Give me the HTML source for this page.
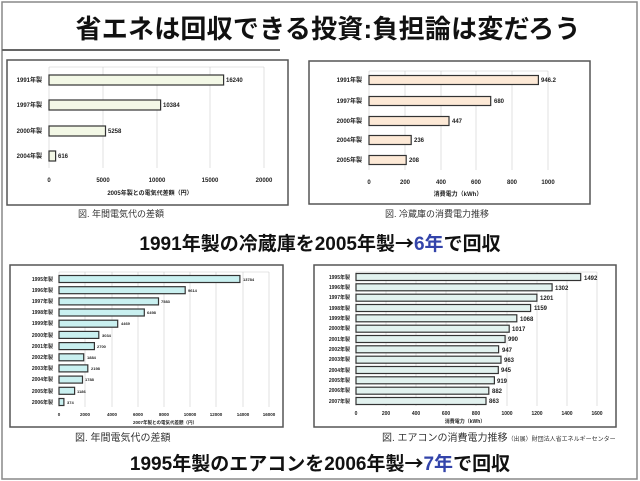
<!DOCTYPE html>
<html><head><meta charset="utf-8"><style>
body{margin:0;background:#fff;}
svg{display:block;font-family:"Liberation Sans","Noto Sans CJK JP",sans-serif;}
.t{font-size:6px;font-weight:bold;fill:#222}
.b{stroke:#333;stroke-width:1.2}
.g{stroke:#ccc;stroke-width:0.6}
.bx{fill:none;stroke:#555;stroke-width:1.5}
.ar{font-family:"Noto Sans CJK JP",sans-serif}
</style></head><body>
<svg width="640" height="481" viewBox="0 0 640 481">
<rect x="2" y="2" width="635" height="477" fill="none" stroke="#888" stroke-width="1.5"/>
<text x="328" y="38" text-anchor="middle" font-size="26" font-weight="bold" fill="#111" textLength="505">省エネは回収できる投資:負担論は変だろう</text>
<line x1="2" y1="50" x2="280" y2="50" stroke="#666" stroke-width="2"/>

<!-- chart1 -->
<rect class="bx" x="7" y="60" width="281" height="145"/>
<g class="g"><line x1="49" y1="67" x2="49" y2="168"/><line x1="103" y1="67" x2="103" y2="168"/><line x1="157" y1="67" x2="157" y2="168"/><line x1="210" y1="67" x2="210" y2="168"/><line x1="264" y1="67" x2="264" y2="168"/><line x1="49" y1="67" x2="264" y2="67"/></g>
<g fill="#f3f8e6" class="b"><rect x="49" y="75" width="174.6" height="10"/><rect x="49" y="100" width="111.6" height="10"/><rect x="49" y="126" width="56.5" height="10"/><rect x="49" y="151" width="6.6" height="10"/></g>
<g class="t" text-anchor="end"><text x="42" y="82">1991年製</text><text x="42" y="107">1997年製</text><text x="42" y="133">2000年製</text><text x="42" y="158">2004年製</text></g>
<g class="t"><text x="226" y="82">16240</text><text x="163" y="107">10384</text><text x="108" y="133">5258</text><text x="58" y="158">616</text></g>
<g class="t" text-anchor="middle"><text x="49" y="182">0</text><text x="103" y="182">5000</text><text x="157" y="182">10000</text><text x="210" y="182">15000</text><text x="264" y="182">20000</text><text x="150" y="195">2005年製との電気代差額（円）</text></g>
<text x="78" y="217" font-size="9" fill="#333">図.  年間電気代の差額</text>

<!-- chart2 -->
<rect class="bx" x="309" y="61" width="281" height="143"/>
<g class="g"><line x1="369" y1="71" x2="369" y2="170"/><line x1="405" y1="71" x2="405" y2="170"/><line x1="441" y1="71" x2="441" y2="170"/><line x1="476" y1="71" x2="476" y2="170"/><line x1="512" y1="71" x2="512" y2="170"/><line x1="548" y1="71" x2="548" y2="170"/><line x1="369" y1="71" x2="548" y2="71"/></g>
<g fill="#fde9d6" class="b"><rect x="369" y="75.5" width="169.4" height="9"/><rect x="369" y="96.5" width="121.7" height="9"/><rect x="369" y="116.5" width="80" height="9"/><rect x="369" y="135.5" width="42.2" height="9"/><rect x="369" y="155.5" width="37.2" height="9"/></g>
<g class="t" text-anchor="end"><text x="362" y="82">1991年製</text><text x="362" y="103">1997年製</text><text x="362" y="123">2000年製</text><text x="362" y="142">2004年製</text><text x="362" y="162">2005年製</text></g>
<g class="t"><text x="541" y="82">946.2</text><text x="494" y="103">680</text><text x="452" y="123">447</text><text x="414" y="142">236</text><text x="409" y="162">208</text></g>
<g class="t" text-anchor="middle"><text x="369" y="184">0</text><text x="405" y="184">200</text><text x="441" y="184">400</text><text x="476" y="184">600</text><text x="512" y="184">800</text><text x="548" y="184">1000</text><text x="458" y="196">消費電力（kWh）</text></g>
<text x="385" y="217" font-size="9" fill="#333">図.  冷蔵庫の消費電力推移</text>

<text x="320" y="250" text-anchor="middle" font-size="19" font-weight="bold" fill="#111">1991年製の冷蔵庫を2005年製<tspan class="ar">→</tspan><tspan fill="#3344aa">6年</tspan>で回収</text>

<!-- chart3 -->
<rect class="bx" x="10" y="265" width="273" height="162"/>
<g class="g"><line x1="59" y1="272" x2="59" y2="407"/><line x1="85" y1="272" x2="85" y2="407"/><line x1="112" y1="272" x2="112" y2="407"/><line x1="138" y1="272" x2="138" y2="407"/><line x1="164" y1="272" x2="164" y2="407"/><line x1="190" y1="272" x2="190" y2="407"/><line x1="216" y1="272" x2="216" y2="407"/><line x1="243" y1="272" x2="243" y2="407"/><line x1="269" y1="272" x2="269" y2="407"/><line x1="59" y1="272" x2="269" y2="272"/></g>
<g fill="#c9f0f0" class="b"><rect x="59" y="275.5" width="180.9" height="7"/><rect x="59" y="286.7" width="126.2" height="7"/><rect x="59" y="297.9" width="99.5" height="7"/><rect x="59" y="309" width="85.3" height="7"/><rect x="59" y="320.2" width="58.7" height="7"/><rect x="59" y="331.4" width="39.8" height="7"/><rect x="59" y="342.6" width="35.4" height="7"/><rect x="59" y="353.8" width="24.7" height="7"/><rect x="59" y="364.9" width="28.8" height="7"/><rect x="59" y="376.1" width="23.5" height="7"/><rect x="59" y="387.3" width="15.6" height="7"/><rect x="59" y="398.5" width="4.9" height="7"/></g>
<g class="t" text-anchor="end" style="font-size:5px"><text x="53" y="281">1995年製</text><text x="53" y="292">1996年製</text><text x="53" y="303">1997年製</text><text x="53" y="314">1998年製</text><text x="53" y="325">1999年製</text><text x="53" y="337">2000年製</text><text x="53" y="348">2001年製</text><text x="53" y="359">2002年製</text><text x="53" y="370">2003年製</text><text x="53" y="381">2004年製</text><text x="53" y="393">2005年製</text><text x="53" y="404">2006年製</text></g>
<g class="t" style="font-size:4px"><text x="243" y="281">13784</text><text x="188" y="292">9614</text><text x="161" y="303">7583</text><text x="147" y="314">6498</text><text x="121" y="325">4469</text><text x="102" y="337">3034</text><text x="97" y="348">2700</text><text x="87" y="359">1884</text><text x="91" y="370">2198</text><text x="85" y="381">1788</text><text x="77" y="393">1186</text><text x="67" y="404">374</text></g>
<g class="t" text-anchor="middle" style="font-size:4.5px"><text x="59" y="416">0</text><text x="85" y="416">2000</text><text x="112" y="416">4000</text><text x="138" y="416">6000</text><text x="164" y="416">8000</text><text x="190" y="416">10000</text><text x="216" y="416">12000</text><text x="243" y="416">14000</text><text x="269" y="416">16000</text><text x="165" y="424">2007年製との電気代差額（円）</text></g>
<text x="75" y="441" font-size="10" fill="#333">図.  年間電気代の差額</text>

<!-- chart4 -->
<rect class="bx" x="314" y="265" width="302" height="162"/>
<g class="g"><line x1="356" y1="272" x2="356" y2="406"/><line x1="386" y1="272" x2="386" y2="406"/><line x1="416" y1="272" x2="416" y2="406"/><line x1="446" y1="272" x2="446" y2="406"/><line x1="476" y1="272" x2="476" y2="406"/><line x1="507" y1="272" x2="507" y2="406"/><line x1="537" y1="272" x2="537" y2="406"/><line x1="567" y1="272" x2="567" y2="406"/><line x1="597" y1="272" x2="597" y2="406"/><line x1="356" y1="272" x2="597" y2="272"/></g>
<g fill="#e2f2ef" class="b"><rect x="356" y="273.5" width="224.7" height="7"/><rect x="356" y="283.8" width="196.1" height="7"/><rect x="356" y="294.2" width="180.9" height="7"/><rect x="356" y="304.5" width="174.6" height="7"/><rect x="356" y="314.8" width="160.8" height="7"/><rect x="356" y="325.2" width="153.2" height="7"/><rect x="356" y="335.5" width="149.1" height="7"/><rect x="356" y="345.8" width="142.6" height="7"/><rect x="356" y="356.2" width="145" height="7"/><rect x="356" y="366.5" width="142.3" height="7"/><rect x="356" y="376.8" width="138.4" height="7"/><rect x="356" y="387.2" width="132.8" height="7"/><rect x="356" y="397.5" width="130" height="7"/></g>
<g class="t" text-anchor="end" style="font-size:5px"><text x="350" y="279">1995年製</text><text x="350" y="289">1996年製</text><text x="350" y="299">1997年製</text><text x="350" y="310">1998年製</text><text x="350" y="320">1999年製</text><text x="350" y="330">2000年製</text><text x="350" y="341">2001年製</text><text x="350" y="351">2002年製</text><text x="350" y="361">2003年製</text><text x="350" y="372">2004年製</text><text x="350" y="382">2005年製</text><text x="350" y="392">2006年製</text><text x="350" y="403">2007年製</text></g>
<g class="t"><text x="584" y="280">1492</text><text x="555" y="290">1302</text><text x="540" y="300">1201</text><text x="534" y="310">1159</text><text x="520" y="321">1068</text><text x="512" y="331">1017</text><text x="508" y="341">990</text><text x="502" y="352">947</text><text x="504" y="362">963</text><text x="501" y="372">945</text><text x="497" y="383">919</text><text x="492" y="393">882</text><text x="489" y="403">863</text></g>
<g class="t" text-anchor="middle" style="font-size:5px"><text x="356" y="415">0</text><text x="386" y="415">200</text><text x="416" y="415">400</text><text x="446" y="415">600</text><text x="476" y="415">800</text><text x="507" y="415">1000</text><text x="537" y="415">1200</text><text x="567" y="415">1400</text><text x="597" y="415">1600</text><text x="465" y="423">消費電力（kWh）</text></g>
<text x="382" y="441" font-size="10" fill="#333">図.  エアコンの消費電力推移<tspan font-size="6">（出展）財団法人省エネルギーセンター</tspan></text>

<text x="320" y="470" text-anchor="middle" font-size="19" font-weight="bold" fill="#111">1995年製のエアコンを2006年製<tspan class="ar">→</tspan><tspan fill="#3344aa">7年</tspan>で回収</text>
</svg>
</body></html>
